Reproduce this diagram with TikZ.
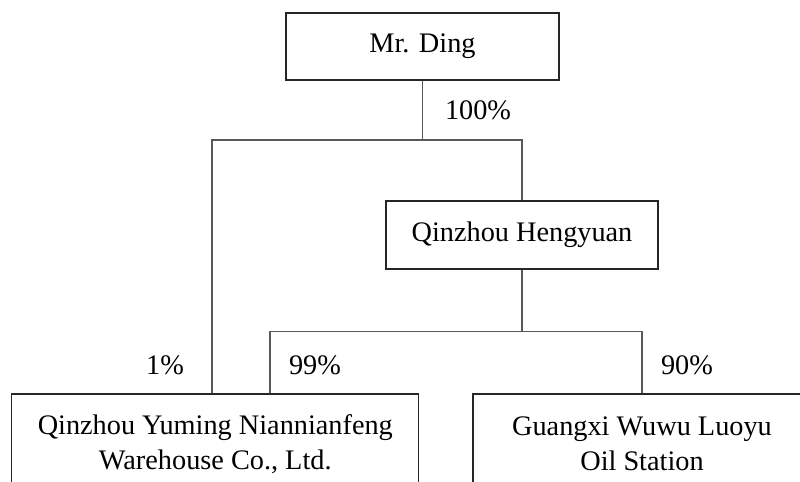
\documentclass[tikz,border=0pt]{standalone}
\usepackage{fontspec}
\setmainfont{Liberation Serif}
\usetikzlibrary{positioning,calc}

\begin{document}
\begin{tikzpicture}[x=0.02cm, y=-0.02cm, line width=0.7pt, firm/.style={rectangle,draw=black!85,fill=white,align=center,inner sep=0pt}, link/.style={draw=black!65,line width=0.8pt}]%px grid
\useasboundingbox (0,0) rectangle (800,482);
\clip (0,0) rectangle (800,482);
\begin{scope}[every node/.style={font=\fontsize{16.1}{19.8}\selectfont}]
\node[firm,minimum width=5.46cm,minimum height=1.34cm] (vD) at (422.5,46.5) {Mr. Ding};
\node[firm,minimum width=5.44cm,minimum height=1.36cm] (vH) at (522,235) {Qinzhou Hengyuan};
\node[firm,minimum width=8.14cm,minimum height=2cm] (vY) at (215.3,444) {Qinzhou Yuming Niannianfeng\\Warehouse Co., Ltd.};
\node[firm,minimum width=6.76cm,minimum height=2cm] (vW) at (642,444) {Guangxi Wuwu Luoyu\\Oil Station};
\node (p100) at (478,110) {100\%};
\node (p1) at (165,365) {1\%};
\node (p99) at (315,365) {99\%};
\node (p90) at (687,365) {90\%};
\end{scope}
\coordinate (a1) at (212,140);
\coordinate (a2) at (522,140);
\coordinate (b1) at (270,331.5);
\coordinate (b2) at (642,331.5);
\begin{scope}
\draw[link] (vD.south) -- (vD.south |- a1);
\draw[link] (a1 |- vY.north) -- (a1) -- (a2) -- (vH.north);
\draw[link] (vH.south) -- (vH.south |- b1);
\draw[link] (b1 |- vY.north) -- (b1) -- (b2) -- (vW.north);
\end{scope}
\end{tikzpicture}
\end{document}
